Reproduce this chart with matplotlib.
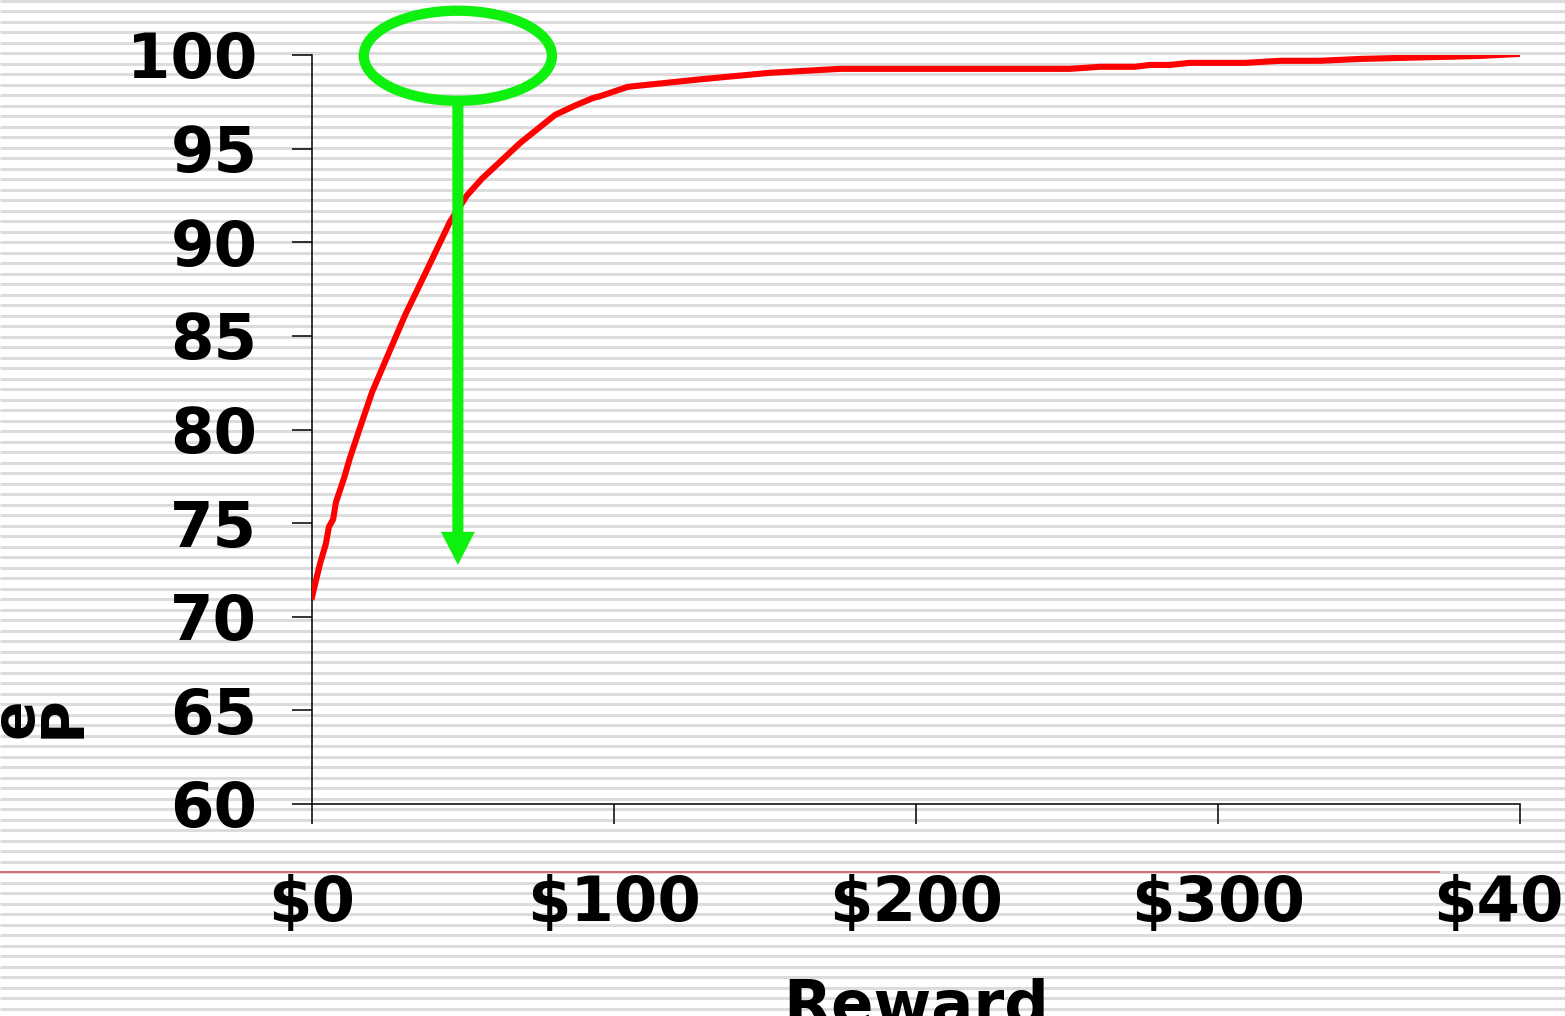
import matplotlib
matplotlib.use("Agg")
import matplotlib.pyplot as plt
from matplotlib.patches import Ellipse
import numpy as np

# ---- data ----
reward = [0, 2.6, 4.6, 5.6, 7, 7.9, 10.6, 12.6, 15.9, 19.9, 25.2, 30.8, 37.4, 45.7,
          51.3, 56.3, 62.3, 68.9, 80.5, 87.1, 93, 95.4, 104.6, 128.5, 151.7, 174.8,
          251, 261, 272.5, 277.5, 284, 290.7, 309, 320.5, 333.8, 347, 386.8, 400]
percent = [71.06, 72.8, 73.9, 74.8, 75.2, 76.1, 77.4, 78.5, 80.1, 82.0, 84.0, 86.1, 88.3, 91.1,
           92.5, 93.4, 94.3, 95.3, 96.8, 97.3, 97.7, 97.8, 98.3, 98.7, 99.05, 99.26,
           99.26, 99.37, 99.37, 99.47, 99.47, 99.58, 99.58, 99.69, 99.69, 99.79, 99.95, 100.06]
x_ticks = [0, 100, 200, 300, 400]
x_ticklabels = ["$0", "$100", "$200", "$300", "$400"]
y_ticks = [60, 65, 70, 75, 80, 85, 90, 95, 100]
highlight_x = 48.3     # reward at which the highlighted point sits
highlight_y = 99.96
arrow_end_y = 72.77

W, H = 1565, 1016
fig = plt.figure(figsize=(W / 100, H / 100), dpi=100)
fig.patch.set_facecolor("white")

# striped background
bg = fig.add_axes([0, 0, 1, 1], zorder=-2)
bg.axis("off")
for k in range(0, 98):
    bg.plot([0, W], [10.5 * k + 0.5] * 2, color="#dcdcdc", lw=2.2, solid_capstyle="butt")
# thin red rule
bg.plot([0, 1440], [872, 872], color="#d06060", lw=1.2, solid_capstyle="butt")
bg.set_xlim(0, W)
bg.set_ylim(H, 0)

ax = fig.add_axes([312 / W, 212 / H, (1520 - 312) / W, (804 - 55) / H])
ax.patch.set_alpha(0)
ax.set_xlim(0, 400)
ax.set_ylim(60, 100)
for s in ["top", "right"]:
    ax.spines[s].set_visible(False)
for s in ["left", "bottom"]:
    ax.spines[s].set_linewidth(1.1)

ax.plot(reward, percent, color="#ff0000", lw=4.4, zorder=3)

ax.set_xticks(x_ticks)
ax.set_xticklabels(x_ticklabels)
ax.set_yticks(y_ticks)
ax.tick_params(axis="both", direction="out", length=14.4, width=1.1, labelsize=45)
ax.tick_params(axis="y", pad=25)
ax.tick_params(axis="x", pad=36)
for lab in ax.get_xticklabels() + ax.get_yticklabels():
    lab.set_fontweight("bold")
    lab.set_clip_on(False)

ax.set_xlabel("Reward", fontsize=45, fontweight="bold", labelpad=32)

green = "#0ef00e"
ell = Ellipse((highlight_x, highlight_y), width=62.3, height=4.81, fill=False,
              edgecolor=green, lw=7.4, clip_on=False, zorder=5)
ax.add_patch(ell)
ax.annotate("", xy=(highlight_x, arrow_end_y), xytext=(highlight_x, highlight_y - 2.45),
            arrowprops=dict(arrowstyle="simple,head_length=23.8,head_width=24.5,tail_width=8",
                            mutation_scale=1, color=green, shrinkA=0, shrinkB=0, lw=0),
            zorder=6, annotation_clip=False)

# y-axis title, clipped at the left edge of the figure
fig.text(92 / W, 1 - 738 / H, "e\nP", rotation=90,
         ha="right", va="bottom", fontsize=42, fontweight="bold", linespacing=0.8,
         multialignment="left")

fig.savefig("out.png", dpi=100, facecolor="white")
